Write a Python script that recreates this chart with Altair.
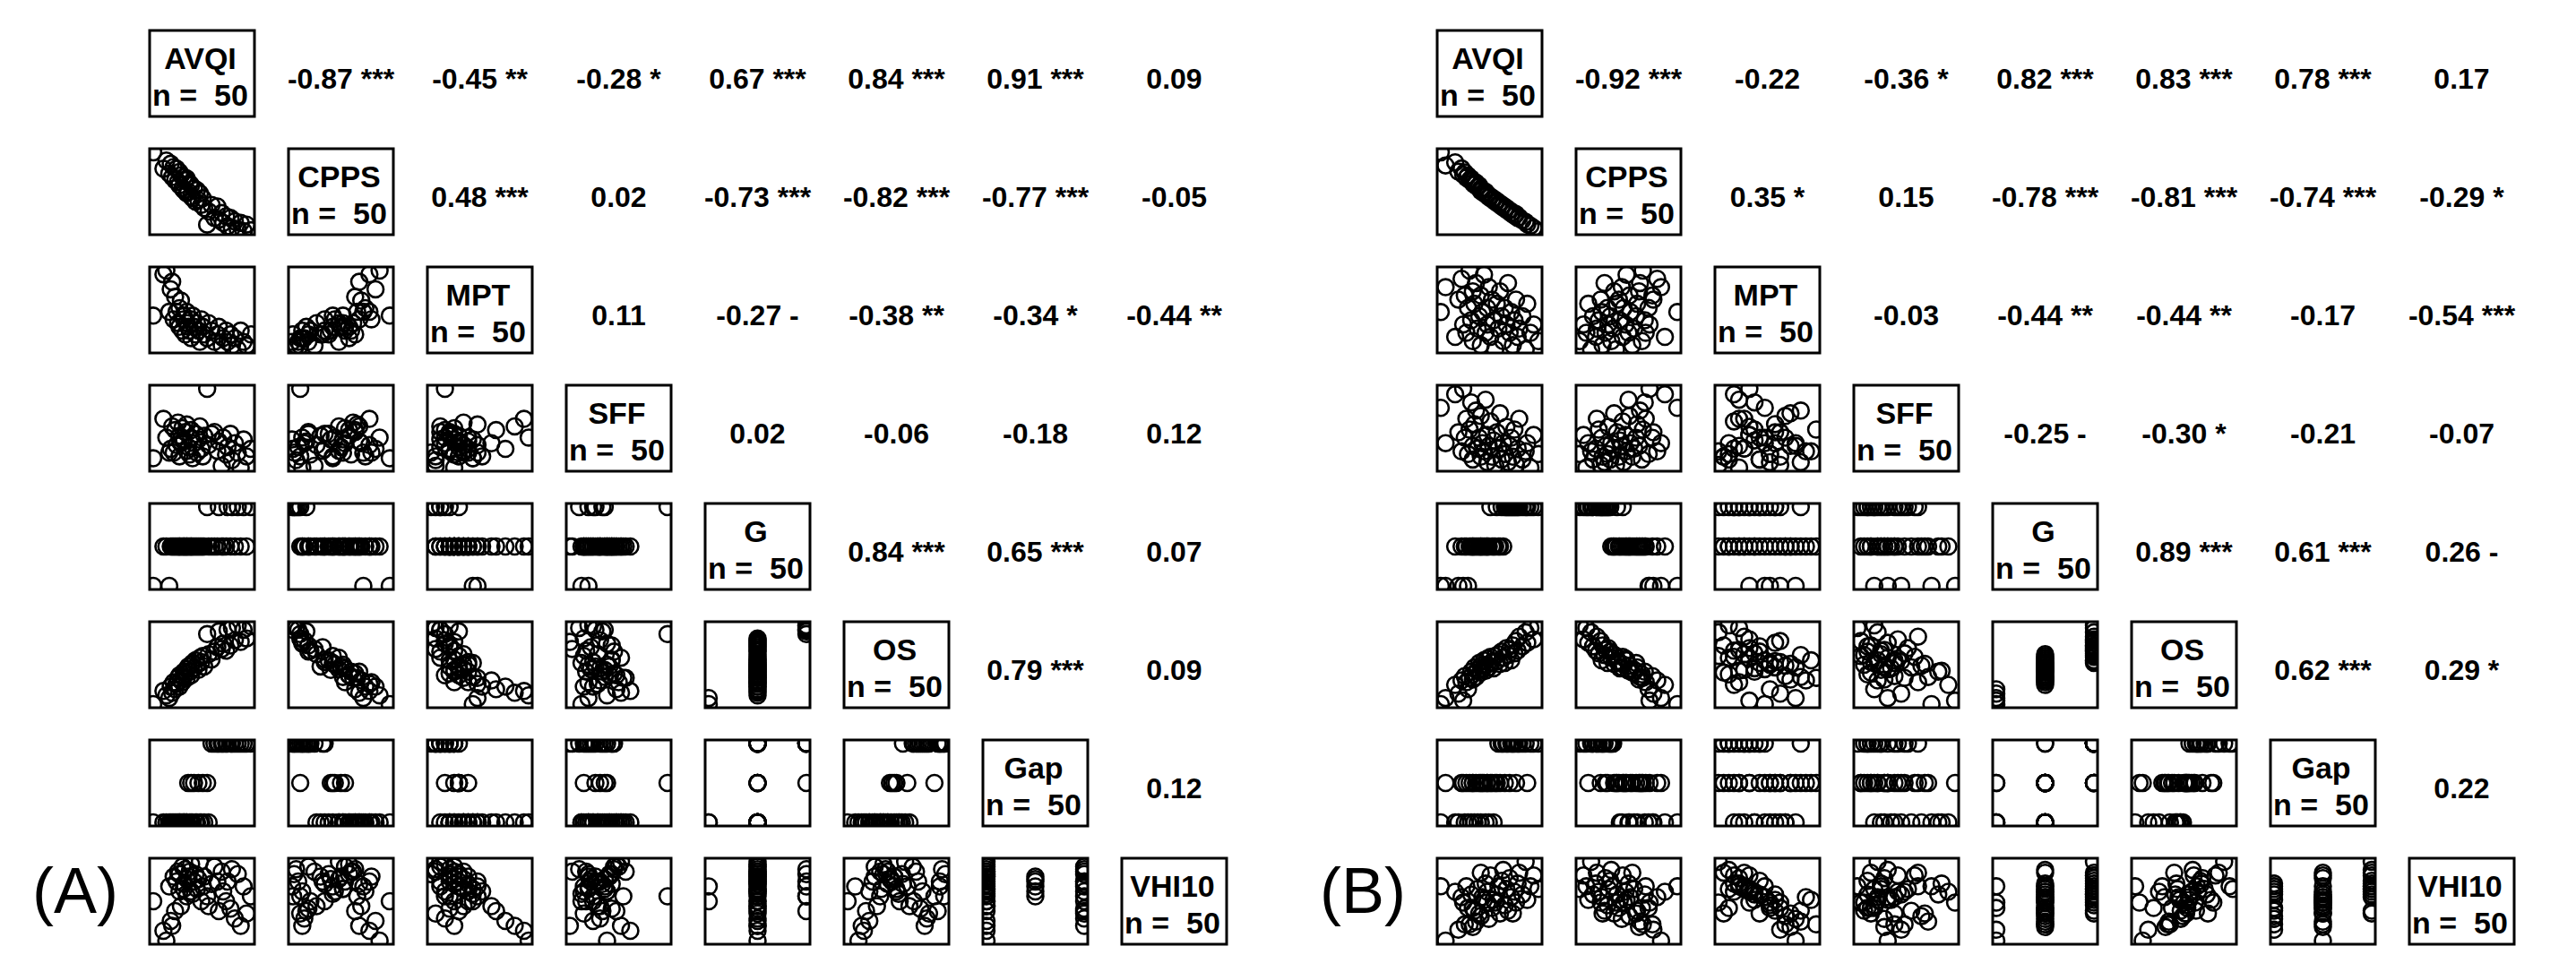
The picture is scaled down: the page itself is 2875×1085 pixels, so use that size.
import altair as alt
import pandas as pd

# Variable names (diagonal labels)
NAMES = ["AVQI", "CPPS", "MPT", "SFF", "G", "OS", "Gap", "VHI10"]

# ---------------- Group A ----------------
AVQI_A = [1.2, 1.9, 2.1, 2.3, 2.4, 2.5, 2.6, 2.7, 2.8, 2.9,
          3.0, 3.0, 3.1, 3.2, 3.3, 3.3, 3.4, 3.5, 3.5, 3.6,
          3.7, 3.8, 3.8, 3.9, 4.0, 4.1, 4.2, 4.3, 4.4, 4.5,
          4.6, 4.7, 4.9, 5.0, 5.2, 5.4, 5.6, 5.7, 5.9, 6.0,
          6.2, 6.3, 6.5, 6.6, 6.8, 7.0, 7.2, 7.4, 7.6, 7.9]
CPPS_A = [14.0, 12.0, 13.0, 11.4, 12.6, 11.0, 12.2, 10.6, 12.0, 10.4,
          11.6, 10.0, 11.2, 9.6, 11.0, 9.4, 10.6, 9.0, 10.8, 9.2,
          10.2, 8.6, 10.0, 8.4, 9.6, 8.0, 9.4, 8.2, 9.0, 7.6,
          8.4, 7.2, 5.2, 6.8, 7.6, 6.0, 7.4, 5.8, 6.6, 5.4,
          6.2, 5.0, 6.0, 4.8, 5.6, 4.6, 5.4, 4.4, 5.2, 4.5]
MPT_A = [13, 24, 25, 14, 20, 22, 12, 18, 14, 11,
         15, 10, 17, 9, 12, 13, 8, 11, 14, 10,
         9, 12, 7, 13, 10, 8, 11, 9, 6, 12,
         10, 8, 7, 11, 9, 6, 8, 10, 5, 7,
         9, 6, 8, 5, 7, 4, 9, 6, 5, 8]
SFF_A = [135, 240, 190, 150, 160, 220, 150, 210, 170, 230,
         140, 195, 175, 215, 180, 185, 205, 155, 225, 165,
         145, 190, 210, 135, 175, 200, 150, 185, 220, 160,
         140, 195, 320, 170, 200, 205, 155, 180, 115, 190,
         145, 165, 200, 130, 175, 150, 110, 185, 140, 160]
G_A = [0, 1, 1, 0, 1, 1, 1, 1, 1, 1,
       1, 1, 1, 1, 1, 1, 1, 1, 1, 1,
       1, 1, 1, 1, 1, 1, 1, 1, 1, 1,
       1, 1, 2, 1, 1, 1, 1, 2, 1, 1,
       1, 2, 1, 2, 1, 2, 1, 2, 1, 2]
OS_A = [5, 20, 15, 12, 25, 18, 30, 22, 28, 35,
        25, 38, 32, 30, 42, 36, 40, 45, 35, 48,
        42, 50, 38, 52, 46, 55, 50, 44, 58, 53,
        60, 48, 85, 62, 56, 65, 70, 88, 68, 74,
        66, 90, 72, 92, 78, 95, 76, 90, 80, 94]
GAP_A = [0, 0, 0, 0, 0, 0, 0, 0, 0, 0,
         0, 0, 0, 0, 0, 0, 0, 0, 0, 1,
         0, 1, 0, 0, 1, 0, 0, 1, 0, 0,
         1, 0, 1, 0, 2, 2, 2, 2, 2, 2,
         2, 2, 2, 2, 2, 2, 2, 2, 2, 2]
VHI_A = [22, 10, 6, 28, 14, 12, 32, 18, 30, 34,
         26, 33, 20, 36, 29, 27, 35, 31, 24, 32,
         34, 26, 37, 25, 30, 33, 27, 31, 38, 22,
         28, 32, 24, 20, 29, 36, 30, 18, 34, 26,
         22, 30, 19, 35, 15, 33, 12, 28, 17, 24]

R_A = [[-0.87, -0.45, -0.28, 0.67, 0.84, 0.91, 0.09],
       [0.48, 0.02, -0.73, -0.82, -0.77, -0.05],
       [0.11, -0.27, -0.38, -0.34, -0.44],
       [0.02, -0.06, -0.18, 0.12],
       [0.84, 0.65, 0.07],
       [0.79, 0.09],
       [0.12]]
SIG_A = [["***", "**", "*", "***", "***", "***", ""],
         ["***", "", "***", "***", "***", ""],
         ["", "-", "**", "*", "**"],
         ["", "", "", ""],
         ["***", "***", ""],
         ["***", ""],
         [""]]

# ---------------- Group B ----------------
AVQI_B = [1.5, 1.8, 2.4, 2.6, 2.8, 2.9, 3.0, 3.1, 3.2, 3.3,
          3.4, 3.5, 3.5, 3.6, 3.7, 3.8, 3.9, 4.0, 4.0, 4.1,
          4.2, 4.3, 4.4, 4.4, 4.5, 4.6, 4.7, 4.8, 4.9, 5.0,
          5.1, 5.2, 5.3, 5.4, 5.5, 5.6, 5.7, 5.8, 5.9, 6.0,
          6.1, 6.2, 6.3, 6.4, 6.6, 6.8, 6.9, 7.1, 7.3, 7.6]
CPPS_B = [14.5, 12.8, 13.2, 12.0, 12.4, 11.6, 11.9, 11.2, 11.5, 10.9,
          11.1, 10.5, 10.8, 10.3, 10.6, 10.0, 10.2, 9.8, 9.5, 9.6,
          9.2, 9.4, 8.9, 9.1, 8.7, 8.8, 8.4, 8.5, 8.1, 8.2,
          7.8, 7.9, 7.5, 7.6, 7.2, 7.3, 6.9, 7.0, 6.6, 6.7,
          6.3, 6.5, 6.0, 6.1, 5.7, 5.5, 5.2, 5.0, 4.7, 4.3]
MPT_B = [14, 20, 8, 17, 22, 11, 18, 9, 15, 24,
         12, 19, 7, 16, 21, 10, 13, 6, 18, 14,
         23, 9, 15, 11, 20, 8, 17, 12, 5, 16,
         10, 19, 13, 7, 15, 11, 21, 9, 14, 6,
         12, 17, 8, 10, 13, 5, 16, 9, 11, 7]
SFF_B = [215, 150, 240, 170, 135, 250, 160, 195, 130, 175,
         225, 145, 120, 185, 210, 140, 160, 125, 200, 150,
         135, 230, 115, 165, 145, 190, 125, 155, 110, 170,
         140, 205, 120, 150, 130, 180, 115, 145, 160, 125,
         175, 110, 140, 195, 120, 135, 150, 105, 165, 130]
G_B = [0, 0, 1, 0, 1, 0, 1, 1, 0, 1,
       1, 1, 1, 1, 1, 1, 1, 1, 1, 1,
       1, 1, 1, 1, 1, 2, 1, 1, 1, 2,
       1, 1, 2, 1, 2, 2, 2, 2, 2, 2,
       2, 2, 2, 2, 2, 2, 2, 2, 2, 2]
OS_B = [8, 15, 30, 20, 35, 12, 40, 33, 25, 38,
        45, 36, 42, 50, 39, 47, 55, 44, 52, 48,
        58, 46, 53, 60, 50, 62, 56, 49, 63, 57,
        65, 54, 68, 61, 55, 72, 64, 70, 58, 75,
        66, 80, 69, 85, 74, 90, 78, 95, 82, 98]
GAP_B = [0, 1, 0, 0, 1, 1, 0, 1, 0, 1,
         0, 1, 1, 0, 1, 0, 1, 1, 0, 1,
         1, 0, 1, 1, 0, 1, 1, 0, 1, 1,
         2, 1, 2, 2, 1, 2, 2, 1, 2, 2,
         2, 1, 2, 2, 2, 2, 1, 2, 2, 2]
VHI_B = [30, 10, 28, 14, 26, 24, 16, 30, 22, 16,
         27, 15, 22, 21, 17, 29, 20, 35, 19, 26,
         25, 31, 24, 28, 18, 34, 22, 25, 24, 27,
         30, 20, 32, 36, 23, 29, 21, 33, 26, 20,
         28, 24, 31, 35, 27, 39, 25, 30, 34, 29]

R_B = [[-0.92, -0.22, -0.36, 0.82, 0.83, 0.78, 0.17],
       [0.35, 0.15, -0.78, -0.81, -0.74, -0.29],
       [-0.03, -0.44, -0.44, -0.17, -0.54],
       [-0.25, -0.30, -0.21, -0.07],
       [0.89, 0.61, 0.26],
       [0.62, 0.29],
       [0.22]]
SIG_B = [["***", "", "*", "***", "***", "***", ""],
         ["*", "", "***", "***", "***", "*"],
         ["", "**", "**", "", "***"],
         ["-", "*", "", ""],
         ["***", "***", "-"],
         ["***", "*"],
         [""]]

# ---------------- layout ----------------
CW, CH = 117, 96          # panel size
LABEL_W = 129             # width of the column holding the panel letter
FONT = "Liberation Sans"
BOX = alt.ViewBackground(stroke="black", strokeWidth=3, fill="white")
NOBOX = alt.ViewBackground(strokeWidth=0, fill="white")
NBSP = "\u00a0"


def scatter_panel(xv, yv):
    df = pd.DataFrame({"x": xv, "y": yv})
    return (
        alt.Chart(df)
        .mark_point(shape="circle", filled=False, color="black", strokeWidth=2.6,
                    size=320, opacity=1, clip=True)
        .encode(
            x=alt.X("x:Q", scale=alt.Scale(zero=False, nice=False, padding=4), axis=None),
            y=alt.Y("y:Q", scale=alt.Scale(zero=False, nice=False, padding=4), axis=None),
        )
        .properties(width=CW, height=CH, view=BOX)
    )


def diag_panel(name, n):
    df = pd.DataFrame({"t": [f"{name}\nn ={NBSP} {n}"]})
    return (
        alt.Chart(df)
        .mark_text(font=FONT, fontWeight="bold", fontSize=34, align="center",
                   baseline="alphabetic", lineBreak="\n", lineHeight=41, color="black")
        .encode(text="t:N", x=alt.value(CW / 2 - 2), y=alt.value(43))
        .properties(width=CW, height=CH, view=BOX)
    )


def corr_panel(r, sig):
    df = pd.DataFrame({"t": [f"{r:.2f}{NBSP}{sig}"]})
    return (
        alt.Chart(df)
        .mark_text(font=FONT, fontWeight="bold", fontSize=32, align="center",
                   baseline="alphabetic", color="black")
        .encode(text="t:N", x=alt.value(CW / 2), y=alt.value(65))
        .properties(width=CW, height=CH, view=NOBOX)
    )


def letter_panel(letter):
    df = pd.DataFrame({"t": [letter]})
    return (
        alt.Chart(df)
        .mark_text(font=FONT, fontSize=72, align="right", baseline="alphabetic",
                   color="black")
        .encode(text="t:N", x=alt.value(LABEL_W + 3), y=alt.value(61))
        .properties(width=LABEL_W, height=CH, view=NOBOX)
    )


def matrix(vars_, R, SIG, letter):
    cells = []
    k = len(vars_)
    n = len(vars_[0])
    for i in range(k):
        cells.append(letter_panel(letter if i == k - 1 else ""))
        for j in range(k):
            if j < i:
                cells.append(scatter_panel(vars_[j], vars_[i]))
            elif j == i:
                cells.append(diag_panel(NAMES[i], n))
            else:
                cells.append(corr_panel(R[i][j - i - 1], SIG[i][j - i - 1]))
    return alt.concat(*cells, columns=k + 1, spacing={"row": 36, "column": 38},
                      bounds="flush")


mat_a = matrix([AVQI_A, CPPS_A, MPT_A, SFF_A, G_A, OS_A, GAP_A, VHI_A], R_A, SIG_A, "(A)")
mat_b = matrix([AVQI_B, CPPS_B, MPT_B, SFF_B, G_B, OS_B, GAP_B, VHI_B], R_B, SIG_B, "(B)")

chart = (
    alt.hconcat(mat_a, mat_b, spacing=66)
    .properties(padding={"left": 0, "top": 32, "right": 0, "bottom": 0},
                background="white")
    .configure_view(strokeWidth=0)
)

chart.save("out.html", embed_options={"renderer": "svg", "actions": False})
